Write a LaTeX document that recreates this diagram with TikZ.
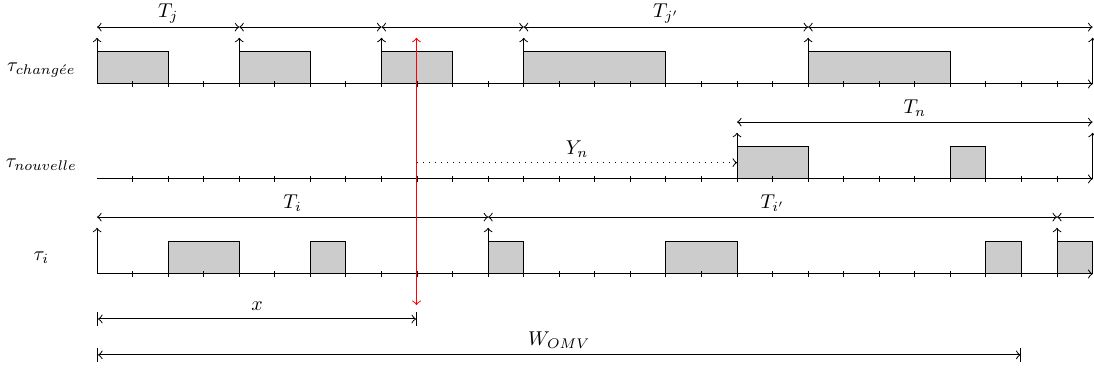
\documentclass[tikz,border=0pt]{standalone}
\begin{document}
\begin{tikzpicture}[x=0.5cm,y=1cm,
	every node/.style={scale=0.8},
	slot/.style={draw,fill=gray!40}]
	\useasboundingbox (-2.73,-3.994) rectangle (28.04,1.181);
	
	% tache changee
	\foreach \a/\b in {0/2,4/6,8/10,12/16,20/24}
		\filldraw[slot] (\a,0) rectangle (\b,0.45);
	\draw[->] (0,0) -- (28,0);
	\foreach \t in {1,...,27}
		\draw (\t,-0.04) -- (\t,0.04);
	\foreach \t in {0,4,8,12,20,28}
		\draw[->] (\t,0) -- (\t,0.65);
	\foreach \a/\b in {0/4,4/8,8/12,12/20,20/28}
		\draw[<->] (\a,0.8) -- (\b,0.8);
	\node (Tj) at (2,0.99) {$T_j$};
	\node (Tjp) at (16,0.99) {$T_{j'}$};
	\node (tauc) at (-1.57,0.2) {$\tau_{chang\acute{e}e}$};
	
	% tache nouvelle
	\begin{scope}[yshift=-1.336cm]
		\filldraw[slot] (18,0) rectangle (20,0.45);
		\filldraw[slot] (24,0) rectangle (25,0.45);
		\draw[->] (0,0) -- (28,0);
		\foreach \t in {1,...,27}
			\draw (\t,-0.04) -- (\t,0.04);
		\draw[->] (18,0) -- (18,0.65);
		\draw[->] (28,0) -- (28,0.65);
		\draw[<->] (18,0.8) -- (28,0.8);
		\node (Tn) at (23,0.99) {$T_n$};
		\draw[dotted,->] (9,0.23) -- (18,0.23);
		\node (Yn) at (13.5,0.42) {$Y_n$};
		\node (taun) at (-1.57,0.2) {$\tau_{nouvelle}$};
	\end{scope}
	
	% tache i
	\begin{scope}[yshift=-2.672cm]
		\foreach \a/\b in {2/4,6/7,11/12,16/18,25/26,27/28}
			\filldraw[slot] (\a,0) rectangle (\b,0.45);
		\draw[->] (0,0) -- (28,0);
		\foreach \t in {1,...,27}
			\draw (\t,-0.04) -- (\t,0.04);
		\foreach \t in {0,11,27}
			\draw[->] (\t,0) -- (\t,0.65);
		\foreach \a/\b in {0/11,11/27,27/29}
			\draw[<->] (\a,0.8) -- (\b,0.8);
		\node (Ti) at (5.5,0.99) {$T_i$};
		\node (Tip) at (19,0.99) {$T_{i'}$};
		\node (taui) at (-1.57,0.23) {$\tau_i$};
	\end{scope}
	
	% instant x et fenetre
	\draw[<->,draw=red,line width=0.4pt] (8.984,0.65) -- (8.984,-3.11);
	\draw[|<->|] (0,-3.305) -- (9,-3.305);
	\node (x) at (4.5,-3.12) {$x$};
	\draw[|<->|] (0,-3.81) -- (26,-3.81);
	\node (W) at (13,-3.6) {$W_{OMV}$};
\end{tikzpicture}
\end{document}
